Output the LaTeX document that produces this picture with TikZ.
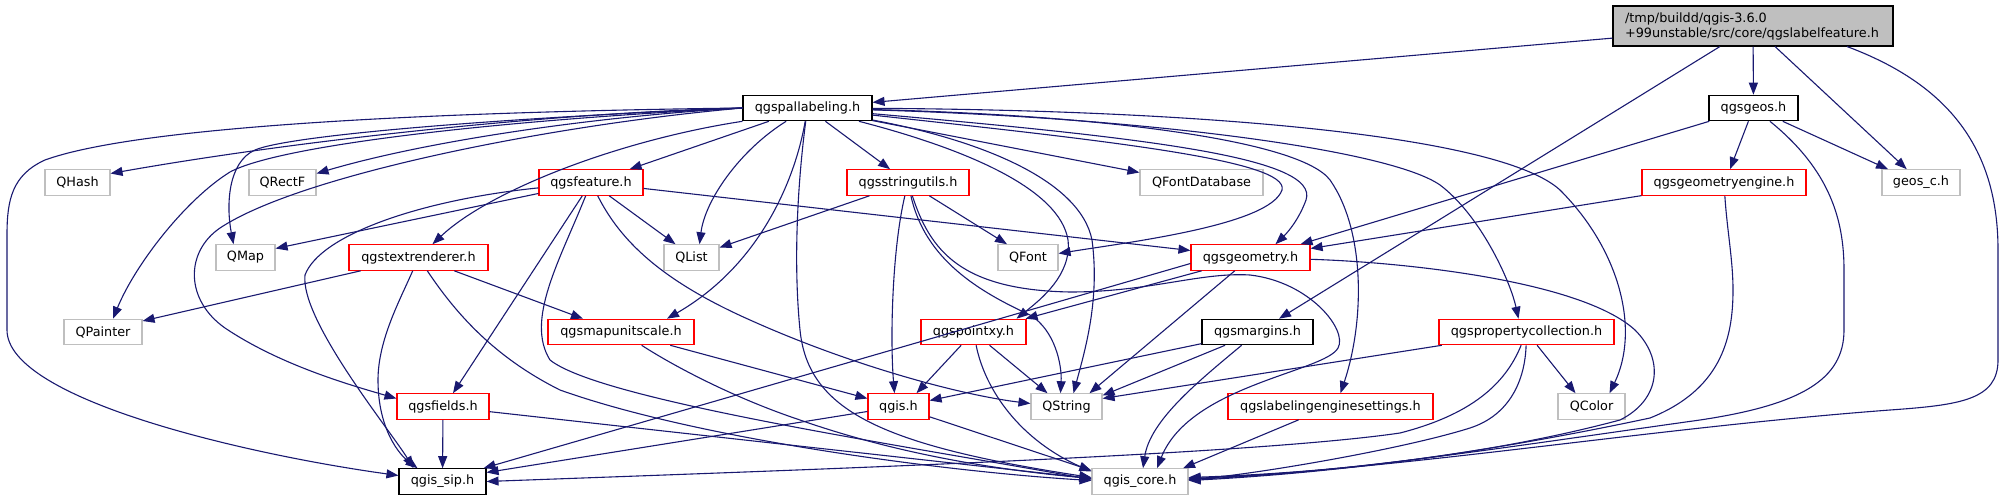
\documentclass[tikz,border=0pt]{standalone}
\usepackage{fontspec}
\setmainfont{DejaVu Sans}
\usetikzlibrary{arrows.meta}
\definecolor{edgeblue}{HTML}{191970}
\definecolor{grayb}{HTML}{BFBFBF}
\definecolor{redb}{HTML}{FF0000}
\begin{document}
\begin{tikzpicture}[x=1pt,y=-1pt,
  box/.style={draw, line width=1.1pt, fill=white, minimum height=25.5pt, inner sep=0pt, font=\fontsize{12.8}{15}\selectfont, text=black},
  bgray/.style={box, draw=grayb},
  bred/.style={box, draw=redb},
  bblack/.style={box, draw=black},
  e/.style={draw=edgeblue, line width=1.1pt, -{Triangle[length=12pt,width=9pt]}},
]
\useasboundingbox (0,0) rectangle (2004,500);

% nodes
\node[box, draw=black, fill=grayb, minimum width=280pt, minimum height=40pt, text width=256pt, align=left] (main) at (1753,26) {/tmp/buildd/qgis-3.6.0\\+99unstable/src/core/qgslabelfeature.h};
\node[bblack, minimum width=129pt] (pal) at (807.5,108) {qgspallabeling.h};
\node[bblack, minimum width=89pt] (geos) at (1753.5,108) {qgsgeos.h};
\node[bgray, minimum width=65pt] (QHash) at (77.5,182.5) {QHash};
\node[bgray, minimum width=67pt] (QRectF) at (282.5,182.5) {QRectF};
\node[bred, minimum width=104pt] (feature) at (591,182.5) {qgsfeature.h};
\node[bred, minimum width=122pt] (strutil) at (908,182.5) {qgsstringutils.h};
\node[bgray, minimum width=123pt] (QFD) at (1201.5,182.5) {QFontDatabase};
\node[bred, minimum width=164pt] (geomeng) at (1724,182.5) {qgsgeometryengine.h};
\node[bgray, minimum width=78pt] (geosc) at (1921,182.5) {geos\_c.h};
\node[bgray, minimum width=59pt] (QMap) at (245.5,257.5) {QMap};
\node[bred, minimum width=139pt] (textr) at (418.5,257.5) {qgstextrenderer.h};
\node[bgray, minimum width=55pt] (QList) at (691.5,257.5) {QList};
\node[bgray, minimum width=60pt] (QFont) at (1028,257.5) {QFont};
\node[bred, minimum width=119pt] (geometry) at (1250.5,257.5) {qgsgeometry.h};
\node[bgray, minimum width=78pt] (QPainter) at (103,332) {QPainter};
\node[bred, minimum width=146pt] (mapunit) at (621,332) {qgsmapunitscale.h};
\node[bred, minimum width=105pt] (pointxy) at (973.5,332) {qgspointxy.h};
\node[bblack, minimum width=111pt] (margins) at (1257.5,332) {qgsmargins.h};
\node[bred, minimum width=175pt] (propcoll) at (1526.5,332) {qgspropertycollection.h};
\node[bred, minimum width=92pt] (fields) at (443,406.5) {qgsfields.h};
\node[bred, minimum width=61pt] (qgis) at (898.5,406.5) {qgis.h};
\node[bgray, minimum width=71pt] (QString) at (1066.5,406.5) {QString};
\node[bred, minimum width=205pt] (labeng) at (1330.5,406.5) {qgslabelingenginesettings.h};
\node[bgray, minimum width=67pt] (QColor) at (1591.5,406.5) {QColor};
\node[bblack, minimum width=87pt] (qgissip) at (442.5,481.5) {qgis\_sip.h};
\node[bgray, minimum width=96pt] (qgiscore) at (1140,481.5) {qgis\_core.h};

% main
\draw[e] (main) -- (pal);
\draw[e] (main) -- (geos);
\draw[e] (main) -- (geosc);
\draw[e] (main) -- (margins);
\draw[e] ([xshift=94pt]main.south) .. controls (1950,85) and (1998,150) .. (1998,250) -- (1998,360) .. controls (1998,400) and (1960,405) .. (1890,410) .. controls (1650,428) and (1400,470) .. ([yshift=3pt]qgiscore.east);

% pal
\draw[e] (pal.west) .. controls (500,111) and (150,122) .. (45,160) .. controls (12,175) and (7,200) .. (7,235) -- (7,330) .. controls (7,400) and (250,455) .. ([yshift=6pt]qgissip.west);
\draw[e] (pal.west) .. controls (550,113) and (300,140) .. ([yshift=9pt]QHash.east);
\draw[e] (pal.west) .. controls (600,116) and (430,140) .. ([yshift=9pt]QRectF.east);
\draw[e] (pal.west) .. controls (500,118) and (290,135) .. (255,150) .. controls (228,162) and (226,205) .. ([xshift=-12pt]QMap.north);
\draw[e] (pal.west) .. controls (500,120) and (280,145) .. (230,172) .. controls (185,200) and (135,265) .. ([xshift=10pt]QPainter.north);
\draw[e] (pal.west) .. controls (550,125) and (300,175) .. (220,228) .. controls (185,252) and (185,300) .. (225,328) .. controls (280,365) and (350,385) .. ([yshift=8pt]fields.west);
\draw[e] (pal) -- (feature);
\draw[e] (pal.south west) .. controls (620,140) and (490,190) .. ([xshift=14pt]textr.north);
\draw[e] (pal) .. controls (740,150) and (705,200) .. ([xshift=8pt]QList.north);
\draw[e] (pal) .. controls (795,180) and (760,265) .. ([xshift=46pt]mapunit.north);
\draw[e] (pal) .. controls (798,180) and (793,260) .. (800,330) .. controls (808,410) and (880,445) .. ([yshift=4pt]qgiscore.west);
\draw[e] (pal) -- (strutil);
\draw[e] (pal) -- ([yshift=10pt]QFD.west);
\draw[e] (pal) .. controls (1100,140) and (1290,160) .. (1282,190) .. controls (1270,225) and (1130,242) .. ([yshift=4pt]QFont.east);
\draw[e] (pal) .. controls (1150,138) and (1320,158) .. (1306,200) .. controls (1298,222) and (1285,235) .. ([xshift=25pt]geometry.north);
\draw[e] (pal) .. controls (970,150) and (1060,190) .. (1068,240) .. controls (1072,275) and (1040,300) .. ([xshift=43pt]pointxy.north);
\draw[e] (pal) .. controls (980,140) and (1080,180) .. (1092,240) .. controls (1100,300) and (1085,350) .. ([xshift=7pt]QString.north);
\draw[e] (pal) .. controls (1100,115) and (1300,140) .. (1330,180) .. controls (1365,230) and (1365,320) .. ([xshift=10pt]labeng.north);
\draw[e] (pal) .. controls (1150,118) and (1390,150) .. (1440,185) .. controls (1480,215) and (1510,280) .. ([xshift=-8pt]propcoll.north);
\draw[e] (pal) .. controls (1200,110) and (1500,135) .. (1560,190) .. controls (1620,250) and (1640,330) .. ([xshift=18pt]QColor.north);

% feature
\draw[e] (feature) -- ([yshift=9pt]QMap.east);
\draw[e] (feature) .. controls (420,200) and (320,235) .. (305,275) .. controls (300,320) and (390,430) .. ([xshift=-29pt]qgissip.north);
\draw[e] (feature) -- ([xshift=10pt]fields.north);
\draw[e] (feature) .. controls (560,260) and (525,320) .. (550,360) .. controls (600,400) and (900,445) .. ([yshift=2pt]qgiscore.west);
\draw[e] (feature) .. controls (620,240) and (660,280) .. (750,320) .. controls (850,365) and (960,395) .. ([yshift=3pt]QString.west);
\draw[e] (feature) -- ([xshift=-16pt]QList.north);
\draw[e] (feature) -- ([yshift=7pt]geometry.west);

% strutil
\draw[e] (strutil) -- ([yshift=10pt]QList.east);
\draw[e] (strutil) -- ([xshift=-21pt]QFont.north);
\draw[e] (strutil) .. controls (892,250) and (890,340) .. ([xshift=-4pt]qgis.north);
\draw[e] (strutil) .. controls (925,260) and (980,292) .. (1030,315) .. controls (1055,330) and (1062,365) .. ([xshift=-6pt]QString.north);
\draw[e] (strutil) .. controls (930,250) and (960,290) .. (1070,292) .. controls (1150,292) and (1200,272) .. (1250,275) .. controls (1310,282) and (1348,330) .. (1338,348) .. controls (1325,372) and (1190,385) .. ([xshift=17pt]qgiscore.north);

% geos
\draw[e] (geos) -- ([xshift=50pt]geometry.north);
\draw[e] (geos) -- ([xshift=6pt]geomeng.north);
\draw[e] (geos) -- ([xshift=-33pt]geosc.north);
\draw[e] (geos) .. controls (1830,170) and (1844,220) .. (1844,270) -- (1844,330) .. controls (1844,380) and (1800,405) .. (1700,420) .. controls (1500,448) and (1350,472) .. ([yshift=2pt]qgiscore.east);

% geomeng
\draw[e] (geomeng) -- ([yshift=9pt]geometry.east);
\draw[e] (geomeng) .. controls (1727,230) and (1733,260) .. (1733,290) .. controls (1733,340) and (1720,390) .. (1650,418) .. controls (1500,450) and (1350,472) .. ([yshift=1pt]qgiscore.east);

% geometry
\draw[e] ([yshift=-6pt]geometry.west) -- ([xshift=-3pt]qgissip.north east);
\draw[e] (geometry) -- ([xshift=-1pt]pointxy.north east);
\draw[e] (geometry) -- ([xshift=23pt]QString.north);
\draw[e] (geometry) .. controls (1400,262) and (1580,280) .. (1635,330) .. controls (1665,360) and (1660,400) .. (1620,420) .. controls (1500,452) and (1350,472) .. ([yshift=4pt]qgiscore.east);

% textr
\draw[e] (textr) -- ([yshift=11pt]QPainter.east);
\draw[e] (textr) -- ([xshift=-38pt]mapunit.north);
\draw[e] (textr) .. controls (400,300) and (378,340) .. (378,380) .. controls (378,430) and (400,455) .. ([xshift=-25pt]qgissip.north);
\draw[e] (textr) .. controls (460,320) and (500,360) .. (560,390) .. controls (700,440) and (950,472) .. ([yshift=1pt]qgiscore.west);

% mapunit
\draw[e] (mapunit) -- ([yshift=8pt]qgis.west);
\draw[e] (mapunit) .. controls (680,370) and (740,400) .. (800,420) .. controls (900,455) and (1000,470) .. ([yshift=3pt]qgiscore.west);

% pointxy
\draw[e] (pointxy) -- ([xshift=18pt]qgis.north);
\draw[e] (pointxy) -- ([xshift=-19pt]QString.north);
\draw[e] (pointxy) .. controls (985,390) and (1020,440) .. ([yshift=10pt]qgiscore.west);

% margins
\draw[e] (margins) -- ([yshift=6pt]qgis.east);
\draw[e] (margins) -- ([yshift=11pt]QString.east);
\draw[e] (margins) .. controls (1200,380) and (1150,420) .. ([xshift=3pt]qgiscore.north);

% propcoll
\draw[e] (propcoll) -- ([yshift=8pt]QString.east);
\draw[e] (propcoll) -- ([xshift=-16pt]QColor.north);
\draw[e] (propcoll) .. controls (1505,385) and (1470,415) .. (1400,433) .. controls (1250,455) and (800,470) .. (qgissip.east);
\draw[e] (propcoll) .. controls (1525,380) and (1510,415) .. (1470,428) .. controls (1400,450) and (1250,475) .. ([yshift=2pt]qgiscore.east);

% labeng
\draw[e] (labeng) -- ([xshift=43pt]qgiscore.north);

% qgis
\draw[e] (qgis) -- ([yshift=9pt]qgissip.east);
\draw[e] (qgis) -- ([yshift=11pt]qgiscore.west);

% fields
\draw[e] (fields) -- (qgissip);
\draw[e] (fields) -- ([yshift=3pt]qgiscore.west);
\end{tikzpicture}
\end{document}
